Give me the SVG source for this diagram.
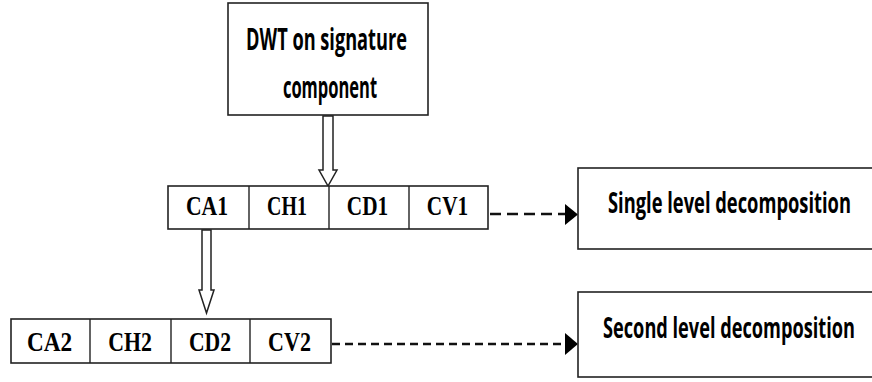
<svg xmlns="http://www.w3.org/2000/svg" width="872" height="382" viewBox="0 0 872 382">
  <style>
    .box { fill: #ffffff; stroke: #222222; stroke-width: 1.6; }
    .cell { fill: none; stroke: #222222; stroke-width: 1.4; }
    .hollow { fill: #ffffff; stroke: #222222; stroke-width: 1.5; stroke-linejoin: miter; }
    .dash1 { fill: none; stroke: #111111; stroke-width: 2.6; stroke-dasharray: 11 6; }
    .dash2 { fill: none; stroke: #111111; stroke-width: 2.6; stroke-dasharray: 8 5; }
    .head { fill: #000000; }
    .sans { font-family: "Open Sans", "Liberation Sans", sans-serif; font-weight: 700; fill: #000000; text-anchor: middle; }
    .serif { font-family: "Liberation Serif", "Times New Roman", serif; font-weight: 700; fill: #000000; text-anchor: middle; font-size: 28px; }
  </style>
  <rect width="872" height="382" fill="#ffffff"/>

  <!-- connectors -->
  <g id="connectors">
    <!-- hollow block arrow: DWT box to first-level row -->
    <path class="hollow" d="M323,116 L333,116 L333,170 L337,170 L328,186 L319,170 L323,170 Z"/>
    <!-- hollow block arrow: CA1 to second-level row -->
    <path class="hollow" d="M202,230 L211,230 L211,290 L214,290 L206.5,313 L199,290 L202,290 Z"/>
    <!-- dashed arrows to the level labels -->
    <line class="dash1" x1="490" y1="214" x2="565" y2="214"/>
    <path class="head" d="M565,204 L578,214.5 L565,225 Z"/>
    <line class="dash2" x1="332" y1="344" x2="565" y2="344"/>
    <path class="head" d="M565,333 L578,344 L565,355 Z"/>
  </g>

  <!-- labels are narrowed horizontally with scale(sx,1); textLength is in local units -->
  <g id="dwt">
    <rect class="box" x="228" y="3" width="200" height="112"/>
    <text class="sans" transform="translate(326.5,50) scale(0.6,1)" font-size="30" textLength="268" lengthAdjust="spacingAndGlyphs">DWT on signature</text>
    <text class="sans" transform="translate(330,98) scale(0.6,1)" font-size="30" textLength="157" lengthAdjust="spacingAndGlyphs">component</text>
  </g>

  <g id="level1">
    <rect class="box" x="168" y="186" width="320" height="43"/>
    <line class="cell" x1="249" y1="186" x2="249" y2="229"/>
    <line class="cell" x1="329" y1="186" x2="329" y2="229"/>
    <line class="cell" x1="409" y1="186" x2="409" y2="229"/>
    <text class="serif" transform="translate(207,215) scale(0.78,1)" textLength="54" lengthAdjust="spacingAndGlyphs">CA1</text>
    <text class="serif" transform="translate(287,215) scale(0.78,1)" textLength="51" lengthAdjust="spacingAndGlyphs">CH1</text>
    <text class="serif" transform="translate(367.5,215) scale(0.78,1)" textLength="53" lengthAdjust="spacingAndGlyphs">CD1</text>
    <text class="serif" transform="translate(447.5,215) scale(0.78,1)" textLength="53" lengthAdjust="spacingAndGlyphs">CV1</text>
  </g>

  <g id="level2">
    <rect class="box" x="11" y="319" width="320" height="44"/>
    <line class="cell" x1="90" y1="319" x2="90" y2="363"/>
    <line class="cell" x1="171" y1="319" x2="171" y2="363"/>
    <line class="cell" x1="250" y1="319" x2="250" y2="363"/>
    <text class="serif" transform="translate(49.5,351) scale(0.78,1)" textLength="58" lengthAdjust="spacingAndGlyphs">CA2</text>
    <text class="serif" transform="translate(130,351) scale(0.78,1)" textLength="56" lengthAdjust="spacingAndGlyphs">CH2</text>
    <text class="serif" transform="translate(210,351) scale(0.78,1)" textLength="54" lengthAdjust="spacingAndGlyphs">CD2</text>
    <text class="serif" transform="translate(289.5,351) scale(0.78,1)" textLength="55" lengthAdjust="spacingAndGlyphs">CV2</text>
  </g>

  <g id="single">
    <rect class="box" x="578" y="168" width="320" height="81"/>
    <text class="sans" transform="translate(729.5,213) scale(0.664,1)" font-size="28" textLength="366" lengthAdjust="spacingAndGlyphs">Single level decomposition</text>
  </g>

  <g id="second">
    <rect class="box" x="578" y="292" width="320" height="85"/>
    <text class="sans" transform="translate(729,338) scale(0.658,1)" font-size="28" textLength="383" lengthAdjust="spacingAndGlyphs">Second level decomposition</text>
  </g>
</svg>
